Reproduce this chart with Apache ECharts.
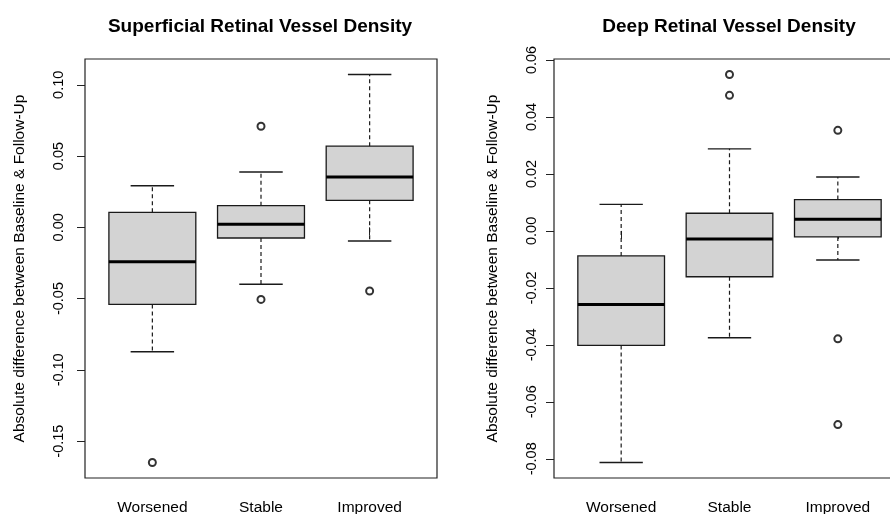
<!DOCTYPE html>
<html>
<head>
<meta charset="utf-8">
<script src="https://cdn.jsdelivr.net/npm/echarts@6/dist/echarts.min.js"></script>
<style>
  html, body { margin: 0; padding: 0; background: #fff; }
  #chart { width: 890px; height: 514px; }
</style>
</head>
<body>
<div id="chart"></div>
<script>
// categories on both panels
const categories = ['Worsened', 'Stable', 'Improved'];

// [lower whisker, Q1, median, Q3, upper whisker] per category
const superficialBoxes = [
    [-0.0873, -0.0541, -0.0241, 0.0105, 0.0292],
    [-0.0400, -0.0075, 0.0021, 0.0152, 0.0388],
    [-0.0096, 0.0189, 0.0353, 0.0569, 0.1072]
];
// [category position, value]
const superficialOutliers = [[1, -0.1650], [2, 0.0709], [2, -0.0506], [3, -0.0447]];

const deepBoxes = [
    [-0.0813, -0.0402, -0.0258, -0.0088, 0.0093],
    [-0.0375, -0.0161, -0.0028, 0.0062, 0.0288],
    [-0.0102, -0.0021, 0.0041, 0.0110, 0.0189]
];
const deepOutliers = [[2, 0.0549], [2, 0.0476], [3, 0.0353], [3, -0.0379], [3, -0.0680]];

// tick labels
const superficialTicks = [-0.15, -0.10, -0.05, 0.00, 0.05, 0.10];
const deepTicks = [-0.08, -0.06, -0.04, -0.02, 0.00, 0.02, 0.04, 0.06];

const titles = ['Superficial Retinal Vessel Density', 'Deep Retinal Vessel Density'];
const yName = 'Absolute difference between Baseline & Follow-Up';

const FONT = 'Liberation Sans';
const catPositions = [1, 2, 3];

// R style limits: data range stretched by 4%
function rLimits(boxes, outliers) {
    let vals = [];
    boxes.forEach(b => { vals.push(b[0], b[4]); });
    outliers.forEach(o => vals.push(o[1]));
    let lo = Math.min.apply(null, vals), hi = Math.max.apply(null, vals);
    let pad = (hi - lo) * 0.04;
    return [lo - pad, hi + pad];
}

function boxData(boxes) {
    return boxes.map((b, i) => [i + 1].concat(b));
}

function renderBox(params, api) {
    let x = api.value(0);
    let low = api.coord([x, api.value(1)]);
    let q1 = api.coord([x, api.value(2)]);
    let med = api.coord([x, api.value(3)]);
    let q3 = api.coord([x, api.value(4)]);
    let high = api.coord([x, api.value(5)]);
    let boxW = api.size([0.8, 0])[0];
    let capW = api.size([0.4, 0])[0];
    let cx = med[0];
    let solid = { stroke: '#1a1a1a', lineWidth: 1.4 };
    let dashed = { stroke: '#1a1a1a', lineWidth: 1.2, lineDash: [4, 3] };
    return {
        type: 'group',
        children: [
            { type: 'line', shape: { x1: cx, y1: q3[1], x2: cx, y2: high[1] }, style: dashed },
            { type: 'line', shape: { x1: cx, y1: q1[1], x2: cx, y2: low[1] }, style: dashed },
            { type: 'line', shape: { x1: cx - capW / 2, y1: high[1], x2: cx + capW / 2, y2: high[1] }, style: solid },
            { type: 'line', shape: { x1: cx - capW / 2, y1: low[1], x2: cx + capW / 2, y2: low[1] }, style: solid },
            {
                type: 'rect',
                shape: { x: cx - boxW / 2, y: q3[1], width: boxW, height: q1[1] - q3[1] },
                style: { fill: '#d3d3d3', stroke: '#1a1a1a', lineWidth: 1.3 }
            },
            { type: 'line', shape: { x1: cx - boxW / 2, y1: med[1], x2: cx + boxW / 2, y2: med[1] }, style: { stroke: '#000', lineWidth: 3 } }
        ]
    };
}

let supLim = rLimits(superficialBoxes, superficialOutliers);
let deepLim = rLimits(deepBoxes, deepOutliers);

// second panel runs past the right edge of the picture, like the reference
let grids = [
    { left: 85, top: 59, width: 352, height: 419 },
    { left: 554, top: 59, width: 351, height: 419 }
];

function makeX(gi) {
    return {
        type: 'value', gridIndex: gi, min: 0.38, max: 3.62,
        splitLine: { show: false },
        axisLine: { show: false },
        axisTick: { show: true, customValues: catPositions, length: 8, lineStyle: { color: '#222' } },
        axisLabel: {
            customValues: catPositions, margin: 22,
            formatter: v => categories[Math.round(v) - 1],
            fontFamily: FONT, fontSize: 15.5, color: '#000'
        }
    };
}

function makeY(gi, lim, ticks, gap, margin) {
    return {
        type: 'value', gridIndex: gi, min: lim[0], max: lim[1],
        name: yName, nameLocation: 'middle', nameRotate: 90, nameGap: gap,
        nameTextStyle: { fontFamily: FONT, fontSize: 15.5, color: '#000' },
        splitLine: { show: false },
        axisLine: { show: false },
        axisTick: { show: true, customValues: ticks, length: 8, lineStyle: { color: '#222' } },
        axisLabel: {
            customValues: ticks, rotate: 90, margin: margin,
            formatter: v => v.toFixed(2),
            fontFamily: FONT, fontSize: 14.5, color: '#000'
        }
    };
}

let chart = echarts.init(document.getElementById('chart'), null, { renderer: 'canvas' });

let titleStyle = { fontFamily: FONT, fontSize: 19, fontWeight: 'bold', color: '#000' };

chart.setOption({
    backgroundColor: '#fff',
    animation: false,
    title: [
        { text: titles[0], left: 255, top: 12, textAlign: 'center', textStyle: titleStyle },
        { text: titles[1], left: 724, top: 12, textAlign: 'center', textStyle: titleStyle }
    ],
    grid: grids.map(g => Object.assign({
        show: true, borderColor: '#222', borderWidth: 1.2, backgroundColor: 'transparent',
        outerBoundsMode: 'none', containLabel: false
    }, g)),
    xAxis: [makeX(0), makeX(1)],
    yAxis: [makeY(0, supLim, superficialTicks, 57, 19), makeY(1, deepLim, deepTicks, 53, 15)],
    series: [
        { type: 'custom', xAxisIndex: 0, yAxisIndex: 0, renderItem: renderBox, data: boxData(superficialBoxes), encode: { x: 0, y: [1, 2, 3, 4, 5] } },
        { type: 'scatter', xAxisIndex: 0, yAxisIndex: 0, data: superficialOutliers, symbol: 'emptyCircle', symbolSize: 7, itemStyle: { color: '#000', borderWidth: 1 } },
        { type: 'custom', xAxisIndex: 1, yAxisIndex: 1, renderItem: renderBox, data: boxData(deepBoxes), encode: { x: 0, y: [1, 2, 3, 4, 5] } },
        { type: 'scatter', xAxisIndex: 1, yAxisIndex: 1, data: deepOutliers, symbol: 'emptyCircle', symbolSize: 7, itemStyle: { color: '#000', borderWidth: 1 } }
    ]
});
</script>
</body>
</html>
